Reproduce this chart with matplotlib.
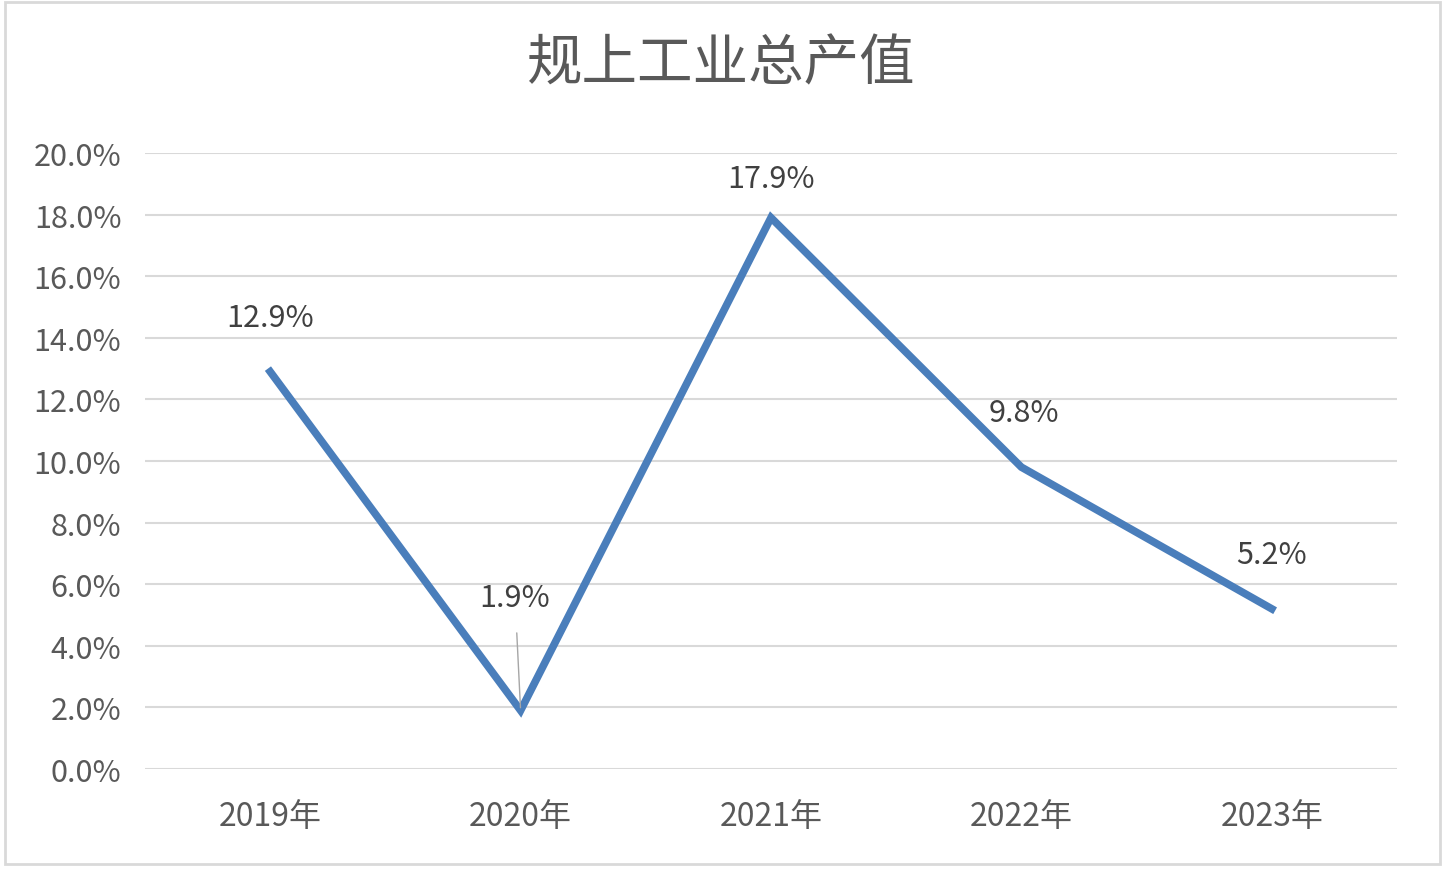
import matplotlib.pyplot as plt
from matplotlib.patches import Rectangle
from matplotlib.ticker import FuncFormatter

plt.rcParams['font.family'] = ['Noto Sans CJK SC', 'DejaVu Sans']

years = ['2019年', '2020年', '2021年', '2022年', '2023年']
values = [12.9, 1.9, 17.9, 9.8, 5.2]
labels = ['12.9%', '1.9%', '17.9%', '9.8%', '5.2%']
# label offsets above each point (points)
offsets = [(0, 39), (-4, 81), (0, 28), (2, 39), (0, 39)]

text_color = '#595959'
grid_color = '#D9D9D9'
line_color = '#4A7EBB'

fig = plt.figure(figsize=(14.46, 8.7), dpi=100)
ax = fig.add_axes([145 / 1446, 1 - 770 / 870, (1397 - 145) / 1446, (770 - 154) / 870])

x = list(range(len(years)))
ax.plot(x, values, color=line_color, linewidth=5.5, solid_joinstyle='miter')

for i, (v, lab) in enumerate(zip(values, labels)):
    if i == 1:
        ax.annotate(lab, xy=(i, v), xytext=offsets[i], textcoords='offset points',
                    ha='center', va='center', fontsize=22, color='#404040',
                    arrowprops=dict(arrowstyle='-', color='#A6A6A6', lw=1,
                                    shrinkA=12, shrinkB=2))
    else:
        ax.annotate(lab, xy=(i, v), xytext=offsets[i], textcoords='offset points',
                    ha='center', va='center', fontsize=22, color='#404040')

ax.set_xlim(-0.5, len(years) - 0.5)
ax.set_ylim(0, 20)
ax.set_yticks([i * 2 for i in range(11)])
ax.yaxis.set_major_formatter(FuncFormatter(lambda v, p: f'{v:.1f}%'))
ax.set_xticks(x)
ax.set_xticklabels(years)

ax.grid(axis='y', color=grid_color, linewidth=1.5)
ax.set_axisbelow(True)
for s in ax.spines.values():
    s.set_visible(False)
ax.tick_params(axis='y', length=0, labelsize=22, colors=text_color, pad=17)
ax.tick_params(axis='x', length=0, labelsize=23, colors=text_color, pad=22)

fig.text(720 / 1446, 1 - 65 / 870, '规上工业总产值', ha='center', va='center',
         fontsize=40, color=text_color)

fig.patches.append(Rectangle((5 / 1446, 5 / 870), 1435 / 1446, 862 / 870,
                             transform=fig.transFigure, fill=False,
                             edgecolor='#D9D9D9', linewidth=2))

fig.savefig('out.png', dpi=100)
